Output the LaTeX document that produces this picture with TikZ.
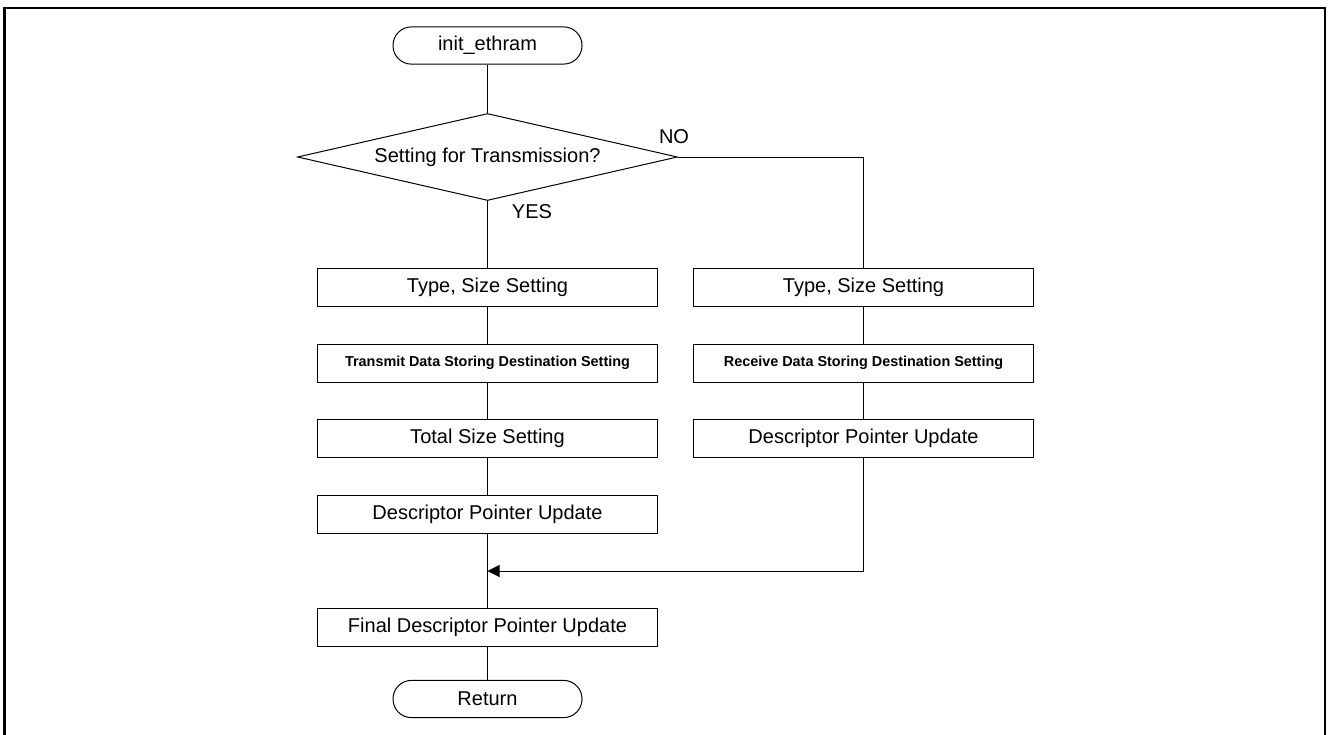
\documentclass[tikz,border=0pt]{standalone}
\usepackage{fontspec}
\setmainfont{Liberation Sans}
\usetikzlibrary{arrows.meta,shapes.geometric}

\tikzset{
  procbox/.style={rectangle, draw=black, line width=0.5pt, minimum width=170pt, minimum height=19pt, inner sep=0pt, font=\fontsize{10}{12}\selectfont},
  smallbold/.style={font=\fontsize{7.2}{8}\selectfont\bfseries},
  termbox/.style={rectangle, draw=black, line width=0.5pt, rounded corners=9.2pt, minimum width=94.5pt, minimum height=18.6pt, inner sep=0pt, font=\fontsize{10}{12}\selectfont},
  decbox/.style={diamond, draw=black, line width=0.5pt, aspect=4.37, minimum width=190pt, minimum height=43.5pt, inner sep=0pt, font=\fontsize{10}{12}\selectfont},
  flow/.style={draw=black, line width=0.5pt}
}

\begin{document}
\begin{tikzpicture}[x=0.5pt, y=-0.5pt]
\useasboundingbox (0,0) rectangle (1328,734);
% frame
\draw[line width=1.3pt] (4.5,740) -- (4.5,8) -- (1325,8) -- (1325,740);
% left column
\node[termbox] (start) at (487.5,45.5) {init\_ethram};
\node[decbox] (dec) at (487.5,157) {Setting for Transmission?};
\node[procbox] (ltype) at (487.5,287) {Type, Size Setting};
\node[procbox, smallbold] (ldest) at (487.5,363) {Transmit Data Storing Destination Setting};
\node[procbox] (ltotal) at (487.5,438) {Total Size Setting};
\node[procbox] (ldesc) at (487.5,514) {Descriptor Pointer Update};
\coordinate (merge) at (487.5,571);
\node[procbox] (final) at (487.5,627) {Final Descriptor Pointer Update};
\node[termbox] (ret) at (487.5,699) {Return};
% right column
\node[procbox] (rtype) at (863.5,287) {Type, Size Setting};
\node[procbox, smallbold] (rdest) at (863.5,363) {Receive Data Storing Destination Setting};
\node[procbox] (rdesc) at (863.5,438) {Descriptor Pointer Update};
% labels
\node[font=\fontsize{10}{12}\selectfont] (nolbl) at (674,137) {NO};
\node[font=\fontsize{10}{12}\selectfont] (yeslbl) at (532,212) {YES};
% connectors
\draw[flow] (start) -- (dec);
\draw[flow] (dec.south) -- (ltype.north);
\draw[flow] (ltype) -- (ldest);
\draw[flow] (ldest) -- (ltotal);
\draw[flow] (ltotal) -- (ldesc);
\draw[flow] (ldesc) -- (final);
\draw[flow] (final) -- (ret);
\draw[flow] (dec.east) -| (rtype.north);
\draw[flow] (rtype) -- (rdest);
\draw[flow] (rdest) -- (rdesc);
\draw[flow, -{Triangle[length=6pt, width=6pt]}] (rdesc.south) |- (merge);
\end{tikzpicture}
\end{document}
